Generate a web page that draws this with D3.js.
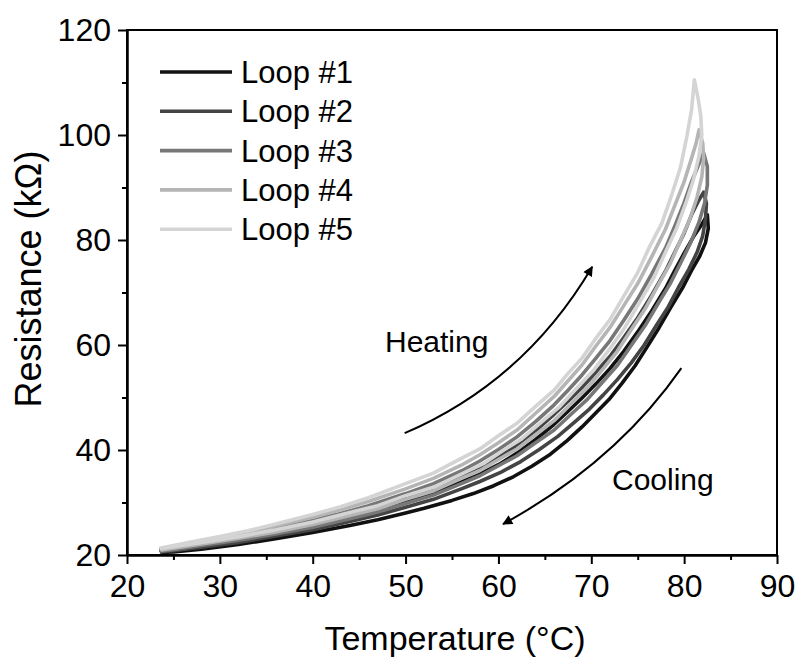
<!DOCTYPE html>
<html>
<head>
<meta charset="utf-8">
<script src="https://cdn.jsdelivr.net/npm/d3@7"></script>
<style>
  body { margin: 0; background: #fff; }
  text { font-family: "Liberation Sans", Arial, sans-serif; fill: #000; }
</style>
</head>
<body>
<div id="chart"></div>
<script>

// tick values
var xTicks = [20, 30, 40, 50, 60, 70, 80, 90],
    xMinor = [25, 35, 45, 55, 65, 75, 85],
    yTicks = [20, 40, 60, 80, 100, 120],
    yMinor = [30, 50, 70, 90, 110];

var loopNames  = ["Loop #1", "Loop #2", "Loop #3", "Loop #4", "Loop #5"],
    loopColors = ["#111111", "#444444", "#777777", "#b5b5b5", "#d4d4d4"];

// [temperature (C), resistance (kOhm)] - heating branch then cooling branch
var loop1 = [[23.5,20.8],[25,21.1],[27,21.6],[30,22.3],[33,23.1],[36,24.1],[40,25.5],[43,26.7],[46,28.0],[50,30.0],
             [53,31.8],[56,33.9],[58,35.4],[60,37.2],[62,39.4],[64,42.0],[66,44.9],[67.5,47.4],[69,49.9],[70.5,52.6],
             [72,55.5],[73.5,58.8],[75,62.5],[76.5,66.5],[78,70.8],[79,74.2],[80,77.5],[81,80.6],[81.8,82.7],[82.5,84.8],
             [82.6,82.2],[82.3,79.5],[81.7,77.0],[80.8,74.2],[79.8,70.8],[78.5,67.0],[77.3,63.3],[76.0,59.6],[74.7,56.0],
             [73.3,52.7],[71.9,49.6],[70.4,46.9],[69.0,44.4],[67.4,41.8],[65.6,39.2],[63.6,36.9],[61.6,34.9],[59.5,33.2],
             [57.3,31.7],[55,30.4],[52,28.9],[50,28.0],[47,26.7],[44,25.6],[40,24.3],[36,23.1],[32,22.0],[28,21.1],[25,20.6],[23.6,20.5]];

var loop2 = [[23.5,20.9],[25,21.2],[27,21.7],[30,22.5],[33,23.4],[36,24.5],[40,26.1],[43,27.3],[46,28.7],[50,30.8],
             [53,32.6],[56,34.8],[58,36.6],[60,38.7],[62,40.9],[64,43.7],[66,46.8],[67.5,49.3],[69,51.9],[70.5,54.8],
             [72,57.8],[73.5,61.4],[75,65.2],[76.5,69.5],[78,74.1],[79,77.7],[80,81.3],[80.8,84.8],[81.5,87.3],[82.1,89.1],
             [82.4,87.0],[82.3,84.0],[82.0,80.8],[81.4,77.7],[80.5,74.4],[79.4,71.0],[78.3,67.3],[77.0,63.7],[75.7,60.0],
             [74.3,56.6],[72.8,53.4],[71.3,50.5],[69.8,47.8],[68.2,45.3],[66.4,42.6],[64.4,40.1],[62.4,37.8],[60.3,35.8],
             [58,34.0],[56,32.6],[53,30.6],[50,29.1],[47,27.6],[44,26.4],[40,24.8],[36,23.6],[32,22.4],[28,21.5],[25,20.8],[23.6,20.6]];

var loop3 = [[23.5,21.0],[25,21.4],[27,21.9],[30,22.8],[33,23.8],[36,25.0],[40,26.6],[43,27.9],[46,29.4],[50,31.7],
             [53,33.6],[56,36.0],[58,37.9],[60,40.1],[62,42.5],[64,45.4],[66,48.6],[67.5,51.4],[69,54.3],[70.5,57.5],
             [72,60.8],[73.5,64.7],[75,68.8],[76.5,73.5],[78,78.5],[79,82.7],[80,87.1],[80.8,91.1],[81.5,94.1],[82.1,96.6],
             [82.5,94.0],[82.5,90.5],[82.2,87.0],[81.6,83.4],[80.7,79.5],[79.7,75.9],[78.5,71.7],[77.2,67.9],[75.8,63.7],
             [74.3,59.9],[72.8,56.1],[71.2,52.9],[69.6,49.7],[68,47.1],[66,43.8],[64,41.4],[62,38.9],[60,37.0],[58,35.1],
             [56,33.6],[53,31.4],[50,29.8],[47,28.2],[44,26.9],[40,25.3],[36,24.0],[32,22.8],[28,21.8],[25,21.0],[23.6,20.7]];

var loop4 = [[23.5,21.1],[25,21.6],[27,22.2],[30,23.2],[33,24.2],[36,25.5],[40,27.2],[43,28.6],[46,30.2],[50,32.6],
             [53,34.6],[56,37.1],[58,39.1],[60,41.4],[62,43.8],[64,47.0],[66,50.2],[67.5,53.2],[69,56.2],[70.5,59.8],
             [72,63.3],[73.5,67.5],[75,71.7],[76.5,76.8],[78,82.1],[79,86.6],[80,91.1],[80.8,95.6],[81.3,98.5],[81.6,101.0],
             [82.0,98.5],[82.1,95.5],[81.9,92.0],[81.4,88.2],[80.6,83.9],[79.6,79.9],[78.5,75.5],[77.2,71.4],[75.8,66.9],
             [74.3,62.9],[72.8,58.8],[71.2,55.3],[69.6,51.9],[68,49.1],[66,45.6],[64,42.9],[62,40.2],[60,38.2],[58,36.1],
             [56,34.6],[53,32.2],[50,30.6],[47,28.8],[44,27.5],[40,25.8],[36,24.4],[32,23.2],[28,22.1],[25,21.3],[23.6,20.9]];

var loop5 = [[23.5,21.3],[25,21.8],[27,22.5],[30,23.5],[33,24.6],[36,25.9],[40,27.7],[43,29.2],[46,30.9],[50,33.6],
             [53,35.6],[56,38.4],[58,40.2],[60,42.7],[62,45.1],[64,48.3],[66,51.4],[67.5,54.6],[69,57.5],[70.5,61.3],
             [72,64.8],[73.5,69.3],[75,73.8],[76.3,78.8],[77.6,83.2],[78.7,88.8],[79.6,93.8],[80.3,99.8],[80.8,104.8],[81.1,110.5],
             [81.5,107.0],[81.8,103.5],[81.9,100.0],[81.6,96.0],[81.0,91.5],[80.2,87.1],[79.2,82.3],[78.0,77.7],[76.7,72.7],
             [75.2,68.1],[73.6,63.3],[72.0,59.3],[70.3,55.3],[68.5,51.9],[66.5,48.1],[64.5,45.1],[62.5,42.1],[60.5,39.9],
             [58.5,37.5],[56,35.4],[53,32.9],[50,31.3],[47,29.4],[44,28.1],[40,26.3],[36,24.8],[32,23.5],[28,22.4],[25,21.6],[23.6,21.2]];

var loops = [loop1, loop2, loop3, loop4, loop5];

// annotation arrows, in data units: start, control, end
var heatArrow = [[49.9, 43.2], [62.8, 53.0], [70.1, 74.9]],
    coolArrow = [[79.7, 55.6], [72.6, 37.6], [60.5, 25.9]];

var width = 798, height = 660;

var svg = d3.select("#chart").append("svg")
    .attr("width", width).attr("height", height);

var x = d3.scaleLinear().domain([20, 90]).range([127, 777]),
    y = d3.scaleLinear().domain([20, 120]).range([555, 30]);

// arrowhead marker
svg.append("defs").append("marker")
   .attr("id", "head")
   .attr("viewBox", "0 0 10 10")
   .attr("refX", 9).attr("refY", 5)
   .attr("markerWidth", 7).attr("markerHeight", 5)
   .attr("markerUnits", "strokeWidth")
   .attr("orient", "auto")
   .append("path")
   .attr("d", "M0,0 L10,5 L0,10 z")
   .attr("fill", "#000");

// loops
var line = d3.line()
    .x(function(d) { return x(d[0]); })
    .y(function(d) { return y(d[1]); });

svg.append("g").selectAll("path")
   .data(loops)
   .enter().append("path")
   .attr("d", line)
   .attr("fill", "none")
   .attr("stroke", function(d, i) { return loopColors[i]; })
   .attr("stroke-width", 3.6)
   .attr("stroke-linejoin", "round");

// frame
svg.append("rect")
   .attr("x", x(20)).attr("y", y(120))
   .attr("width", x(90) - x(20)).attr("height", y(20) - y(120))
   .attr("fill", "none").attr("stroke", "#000").attr("stroke-width", 2);

// axes
function styleAxis(g) {
  g.select(".domain").attr("stroke-width", 2);
  g.selectAll(".tick line").attr("stroke-width", 2);
  g.selectAll("text").attr("font-size", 32)
   .attr("font-family", "'Liberation Sans', Arial, sans-serif");
}

svg.append("g").attr("transform", "translate(0," + y(20) + ")")
   .call(d3.axisBottom(x).tickValues(xTicks).tickSize(9).tickSizeOuter(0).tickPadding(10))
   .call(styleAxis);

svg.append("g").attr("transform", "translate(0," + y(20) + ")")
   .call(d3.axisBottom(x).tickValues(xMinor).tickSize(5).tickSizeOuter(0).tickFormat(""))
   .call(styleAxis);

svg.append("g").attr("transform", "translate(" + x(20) + ",0)")
   .call(d3.axisLeft(y).tickValues(yTicks).tickSize(9).tickSizeOuter(0).tickPadding(7))
   .call(styleAxis);

svg.append("g").attr("transform", "translate(" + x(20) + ",0)")
   .call(d3.axisLeft(y).tickValues(yMinor).tickSize(5).tickSizeOuter(0).tickFormat(""))
   .call(styleAxis);

// axis titles
svg.append("text")
   .attr("x", 455).attr("y", 650)
   .attr("text-anchor", "middle").attr("font-size", 34)
   .text("Temperature (°C)");

svg.append("text")
   .attr("transform", "translate(41,279) rotate(-90)")
   .attr("text-anchor", "middle").attr("font-size", 36)
   .text("Resistance (kΩ)");

// legend
var legend = svg.append("g").selectAll("g")
    .data(loopNames)
    .enter().append("g")
    .attr("transform", function(d, i) { return "translate(160," + (72 + i * 39.3) + ")"; });

legend.append("line")
      .attr("x1", 0).attr("x2", 72)
      .attr("stroke", function(d, i) { return loopColors[i]; })
      .attr("stroke-width", 3.6);

legend.append("text")
      .attr("x", 81).attr("dy", "0.36em")
      .attr("font-size", 31)
      .text(function(d) { return d; });

// heating / cooling annotations
function arrowPath(p) {
  return "M" + x(p[0][0]) + "," + y(p[0][1]) +
         " Q" + x(p[1][0]) + "," + y(p[1][1]) +
         " " + x(p[2][0]) + "," + y(p[2][1]);
}

svg.append("path").attr("d", arrowPath(heatArrow))
   .attr("fill", "none").attr("stroke", "#000").attr("stroke-width", 2)
   .attr("marker-end", "url(#head)");

svg.append("path").attr("d", arrowPath(coolArrow))
   .attr("fill", "none").attr("stroke", "#000").attr("stroke-width", 2)
   .attr("marker-end", "url(#head)");

svg.append("text").attr("x", 385).attr("y", 352).attr("font-size", 30).text("Heating");
svg.append("text").attr("x", 612).attr("y", 490).attr("font-size", 30).text("Cooling");

</script>
</body>
</html>
